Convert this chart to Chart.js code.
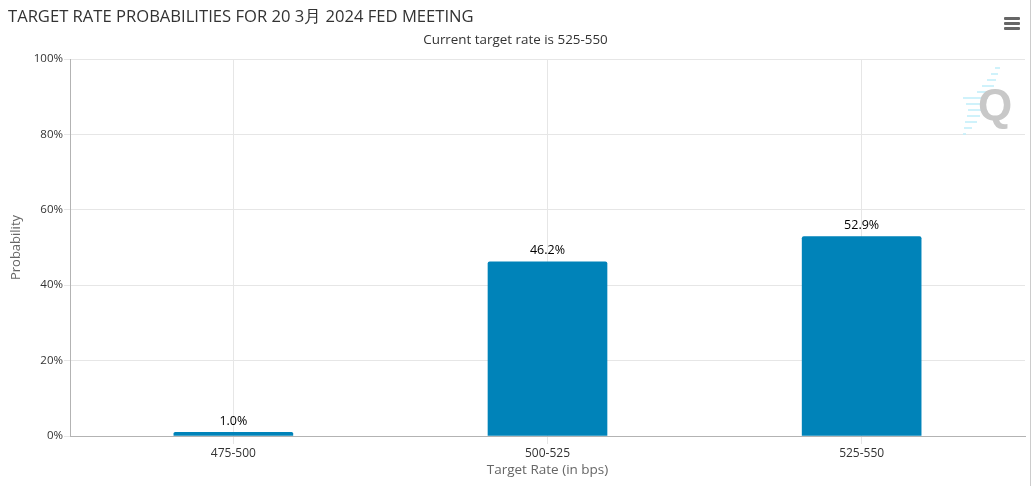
<!DOCTYPE html>
<html>
<head>
<meta charset="utf-8">
<script src="https://cdn.jsdelivr.net/npm/chart.js@4"></script>
<style>
  body { margin: 0; background: #fff; }
  #wrap { position: relative; width: 1035px; height: 486px; font-family: "Open Sans", "Noto Sans", sans-serif; }
  #title { position: absolute; left: 8px; top: 4px; font-size: 16.6px; color: #333; white-space: nowrap; }
  #sub { position: absolute; left: 0; width: 1031px; top: 30px; text-align: center; font-size: 13.4px; color: #333; }
  #menu { position: absolute; left: 1004px; top: 17px; width: 16px; }
  #menu div { height: 3px; background: #666; margin-bottom: 2px; border-radius: 1px; }
  #edge { position: absolute; left: 1030px; top: 0; width: 1px; height: 486px; background: #ccc; }
  #logo { position: absolute; left: 960px; top: 64px; }
  canvas { position: absolute; left: 0; top: 0; }
</style>
</head>
<body>
<div id="wrap">
  <canvas id="chart" width="1035" height="486"></canvas>
  <div id="title">TARGET RATE PROBABILITIES FOR 20 3月 2024 FED MEETING</div>
  <div id="sub">Current target rate is 525-550</div>
  <div id="menu"><div></div><div></div><div></div></div>
  <svg id="logo" width="60" height="75">
    <g stroke="#bfeefa" stroke-width="1.5">
      <line x1="35" y1="4" x2="40" y2="4"/>
      <line x1="31" y1="10" x2="38" y2="10"/>
      <line x1="27" y1="16" x2="36" y2="16"/>
      <line x1="22" y1="22" x2="34" y2="22"/>
      <line x1="17" y1="28" x2="32" y2="28"/>
      <line x1="3" y1="34" x2="28" y2="34"/>
      <line x1="6" y1="40" x2="26" y2="40"/>
      <line x1="8" y1="46" x2="24" y2="46"/>
      <line x1="7" y1="52" x2="20" y2="52"/>
      <line x1="5" y1="58" x2="17" y2="58"/>
      <line x1="4" y1="64" x2="12" y2="64"/>
      <line x1="3" y1="70" x2="6" y2="70"/>
    </g>
    <text x="35" y="56" text-anchor="middle" font-family="Liberation Sans, sans-serif" font-weight="bold" font-size="44" fill="#c8c8c8">Q</text>
  </svg>
  <div id="edge"></div>
</div>
<script>
const categories = ["475-500", "500-525", "525-550"];
const probabilities = [1.0, 46.2, 52.9];
const yTicks = [0, 20, 40, 60, 80, 100];

const barColor = "#0083b9";
const gridColor = "#e6e6e6";
const axisColor = "#b3b3b3";
const fontFamily = "'Open Sans', 'Noto Sans', sans-serif";

const valueLabels = {
  id: "valueLabels",
  afterDatasetsDraw(chart) {
    const ctx = chart.ctx;
    const meta = chart.getDatasetMeta(0);
    ctx.save();
    ctx.font = "12.5px " + fontFamily;
    ctx.fillStyle = "#000";
    ctx.textAlign = "center";
    ctx.textBaseline = "middle";
    meta.data.forEach((bar, i) => {
      ctx.fillText(probabilities[i].toFixed(1) + "%", bar.x, bar.y - 11);
    });
    ctx.restore();
  },
};

const chart = new Chart(document.getElementById("chart").getContext("2d"), {
  type: "bar",
  data: {
    datasets: [
      {
        label: "Probability",
        data: categories.map((c, i) => ({ x: i, y: probabilities[i] })),
        backgroundColor: barColor,
        borderRadius: { topLeft: 2, topRight: 2 },
        borderSkipped: "bottom",
        barThickness: 119,
      },
    ],
  },
  plugins: [valueLabels],
  options: {
    responsive: false,
    animation: false,
    layout: { padding: { top: 59, right: 10, left: 0, bottom: 0 } },
    plugins: {
      legend: { display: false },
      tooltip: { enabled: false },
    },
    scales: {
      x: {
        type: "linear",
        min: -0.52,
        max: 2.52,
        offset: false,
        afterBuildTicks: (scale) => {
          scale.ticks = categories.map((c, i) => ({ value: i }));
        },
        afterFit: (scale) => {
          scale.height = 50;
        },
        ticks: {
          callback: (v) => categories[v],
          color: "#333",
          font: { size: 12, family: fontFamily },
          padding: 2,
          maxRotation: 0,
        },
        grid: { color: gridColor, tickLength: 8, offset: false },
        border: { color: axisColor },
        title: {
          display: true,
          text: "Target Rate (in bps)",
          color: "#666",
          font: { size: 13.5, family: fontFamily },
          padding: { top: 0, bottom: 8 },
        },
      },
      y: {
        min: 0,
        max: 100,
        afterBuildTicks: (scale) => {
          scale.ticks = yTicks.map((v) => ({ value: v }));
        },
        afterFit: (scale) => {
          scale.width = 70;
        },
        ticks: {
          callback: (v) => v + "%",
          color: "#333",
          font: { size: 11.5, family: fontFamily },
          padding: 1,
        },
        grid: { color: gridColor, tickLength: 6 },
        border: { color: axisColor },
        title: {
          display: true,
          text: "Probability",
          color: "#666",
          font: { size: 13, family: fontFamily },
          padding: { top: 8, bottom: 0 },
        },
      },
    },
  },
});
</script>
</body>
</html>
